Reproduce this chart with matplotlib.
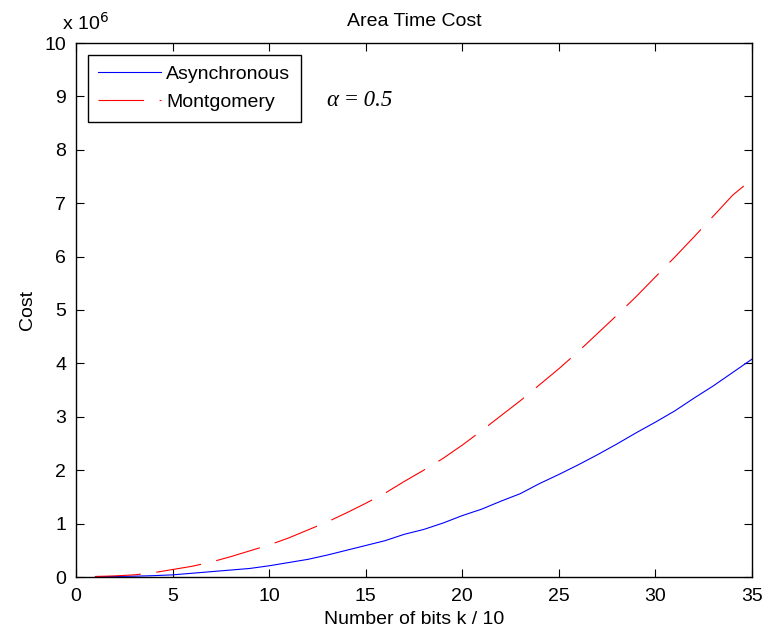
"""
Area Time Cost
"""
import matplotlib.pyplot as plt
import numpy as np

plt.rcParams['font.family'] = ['Liberation Sans', 'DejaVu Sans']

# number of bits k / 10
bits = np.arange(1, 36)
# cost, in units of 1e6
asynchronous = [0.005, 0.01, 0.015, 0.025, 0.04, 0.07, 0.1, 0.13, 0.16, 0.21,
                0.27, 0.33, 0.41, 0.5, 0.59, 0.68, 0.8, 0.89, 1.01, 1.15,
                1.27, 1.42, 1.56, 1.75, 1.92, 2.1, 2.29, 2.49, 2.7, 2.9,
                3.11, 3.35, 3.58, 3.83, 4.08]
montgomery = [0.01, 0.02, 0.04, 0.08, 0.14, 0.2, 0.28, 0.38, 0.49, 0.6,
              0.73, 0.88, 1.03, 1.2, 1.38, 1.57, 1.79, 2.0, 2.22, 2.47,
              2.74, 3.02, 3.3, 3.6, 3.9, 4.22, 4.56, 4.9, 5.25, 5.62,
              5.99, 6.37, 6.76, 7.15, 7.45]

fs = 14
fig = plt.figure(figsize=(7.64, 6.32), dpi=100)
ax = fig.add_axes([76 / 764, 55 / 632, 676 / 764, 534 / 632])

ax.plot(bits, asynchronous, color='blue', lw=0.8, label='Asynchronous')
ax.plot(bits, montgomery, color='red', lw=0.8, dashes=(41, 14), label='Montgomery')

ax.set(xlim=(0, 35), ylim=(0, 10))
ax.set_xticks(np.arange(0, 36, 5))
ax.set_yticks(np.arange(0, 11, 1))
ax.tick_params(direction='in', top=True, right=True, length=6, labelsize=fs)
ax.tick_params(axis='x', pad=8)
ax.tick_params(axis='y', pad=7)
for s in ax.spines.values():
    s.set_linewidth(1.0)

ax.set_title('Area Time Cost', fontsize=fs, pad=12)
ax.set_xlabel('Number of bits k / 10', fontsize=fs, labelpad=4)
ax.set_ylabel('Cost', fontsize=fs, labelpad=6)
fig.text(62 / 764, 1 - 30 / 632, 'x 10$^{6}$', fontsize=fs,
         ha='left', va='baseline', math_fontfamily='dejavusans')
ax.text(13.0, 8.82, 'α\u2009=\u20090.5', fontsize=16.5, va='baseline',
        family=['Liberation Serif', 'DejaVu Serif'], style='italic')

leg = ax.legend(loc='upper left', fontsize=fs, fancybox=False, framealpha=1,
                edgecolor='black', borderaxespad=0.6, handlelength=3.2,
                handletextpad=0.3, borderpad=0.55, labelspacing=0.55)
leg.get_frame().set_linewidth(1.0)

fig.savefig('out.png', dpi=100)
